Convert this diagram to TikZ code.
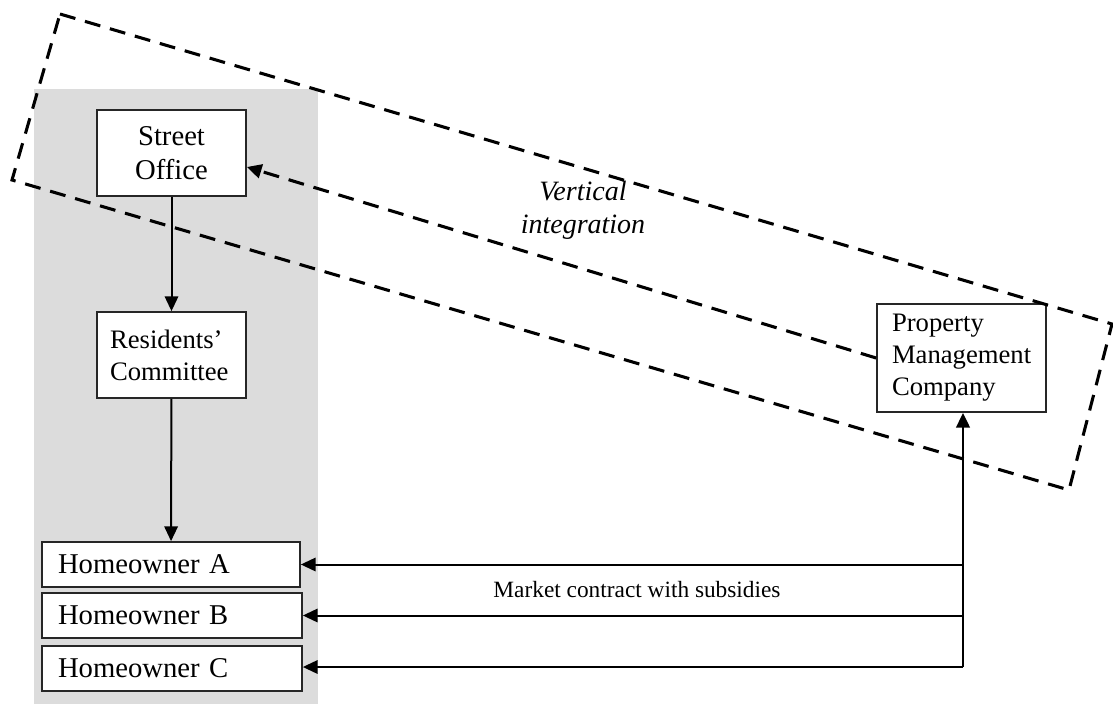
\documentclass[tikz,border=0pt]{standalone}
\usepackage{fontspec}
\setmainfont{Liberation Serif}
\usetikzlibrary{arrows.meta}
\definecolor{panelgray}{RGB}{220,220,220}
\begin{document}
\begin{tikzpicture}[x=0.75pt,y=-0.75pt,
  box/.style={draw=black!85, line width=1.3pt, fill=white, inner sep=0pt},
  bigtext/.style={font=\fontsize{21.5}{25}\selectfont},
  midtext/.style={font=\fontsize{20}{24}\selectfont},
  tip/.style={-{Triangle[length=11pt,width=10pt]}},
  arr/.style={line width=1.5pt, tip},
  dashline/.style={line width=2.3pt, dash pattern=on 12pt off 7.5pt},
  darr/.style={dashline, -{Triangle[length=11pt,width=10.5pt]}}]
  \useasboundingbox (0,0) rectangle (1113,706);

  % shaded column behind the public-sector bodies
  \fill[panelgray] (34,89) rectangle (318,704);

  % boxes
  \node[box, bigtext, minimum width=111.75pt, minimum height=64.5pt, align=center]
    (so) at (171.5,153) {Street\\Office};
  \node[box, midtext, minimum width=111.75pt, minimum height=64.5pt,
        text width=92.25pt, align=left]
    (rc) at (171.5,355) {Residents'\\Committee};
  \node[box, bigtext, minimum width=193.5pt, minimum height=33.75pt,
        text width=169.5pt, align=left]
    (hoA) at (171,564.5) {Homeowner A};
  \node[box, bigtext, minimum width=195pt, minimum height=33.75pt,
        text width=171pt, align=left]
    (hoB) at (172,615.5) {Homeowner B};
  \node[box, bigtext, minimum width=195pt, minimum height=33.75pt,
        text width=171pt, align=left]
    (hoC) at (172,668.5) {Homeowner C};
  \node[box, midtext, minimum width=126.75pt, minimum height=81pt,
        text width=104.25pt, align=left]
    (pmc) at (961.5,358) {Property\\Management\\Company};

  % hierarchy arrows
  \draw[arr] (so) -- (rc);
  \draw[arr] (rc) -- (hoA);

  % market contract arrows
  \coordinate (j) at (963,667);
  \draw[line width=2.2pt, tip] (j) -- (j |- pmc.south);
  \draw[arr] (j |- hoA.east) -- (hoA.east);
  \draw[arr] (j |- hoB.east) -- (hoB.east);
  \draw[arr] (j) -- (j -| hoC.east);
  \node[font=\fontsize{17.5}{21}\selectfont] (mc) at (637,590) {Market contract with subsidies};

  % vertical integration
  \draw[darr] (pmc.west) -- ([yshift=-10.5pt]so.east);
  \node[font=\fontsize{21}{25}\selectfont\itshape, align=center] (vi) at (583,210)
    {Vertical\\integration};

  % dashed enclosure
  \coordinate (c1) at (60,14);
  \coordinate (c2) at (1112,324);
  \coordinate (c3) at (1069,490);
  \coordinate (c4) at (12,180);
  \draw[dashline] (c1) -- (c2) -- (c3) -- (c4) -- cycle;
\end{tikzpicture}
\end{document}
